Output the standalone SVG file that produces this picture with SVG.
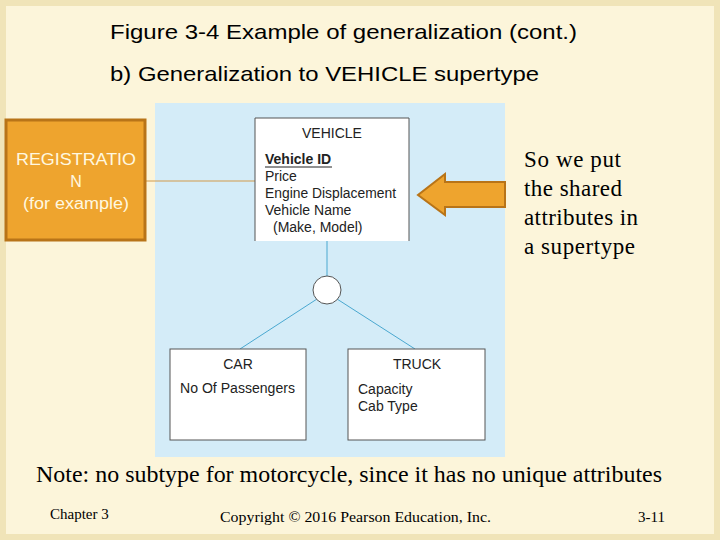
<svg xmlns="http://www.w3.org/2000/svg" width="720" height="540" viewBox="0 0 720 540">
<style>
.t{font-family:"Liberation Sans",Arial,sans-serif;fill:#000}
.s{font-family:"Liberation Serif","Times New Roman",serif;fill:#000}
.e{font-family:"Liberation Sans",Arial,sans-serif;font-size:14px;fill:#222}
.r{font-family:"Liberation Sans",Arial,sans-serif;font-size:16px;fill:#fff8e0}
.box{fill:#fff;stroke:#555;stroke-width:1}
.ln{stroke:#4aa8d0;stroke-width:1;fill:none}
</style>
<rect width="720" height="540" fill="#fcf5da"/>
<rect x="3" y="3" width="714" height="534" fill="none" stroke="#f0e4b8" stroke-width="6"/>
<text class="t" x="110" y="39" font-size="21" textLength="467" lengthAdjust="spacingAndGlyphs">Figure 3-4 Example of generalization (cont.)</text>
<text class="t" x="110" y="81" font-size="21" textLength="429" lengthAdjust="spacingAndGlyphs">b) Generalization to VEHICLE supertype</text>
<rect x="155" y="103" width="350" height="354" fill="#d4ecf8"/>
<g id="connectors">
<line class="ln" x1="327" y1="241" x2="327" y2="276"/>
<line class="ln" x1="317" y1="299" x2="240" y2="349"/>
<line class="ln" x1="337" y1="299" x2="415" y2="349"/>
<line x1="145" y1="181" x2="256" y2="181" stroke="#d29a4a" stroke-width="1"/>
</g>
<g id="vehicle">
<path class="box" d="M255,241 V118 H409 V241"/>
<text class="e" x="332" y="138" text-anchor="middle">VEHICLE</text>
<text class="e" x="265" y="164" font-weight="bold">Vehicle ID</text>
<line x1="265" y1="167" x2="332" y2="167" stroke="#222"/>
<text class="e" x="265" y="181">Price</text>
<text class="e" x="265" y="198" textLength="131" lengthAdjust="spacingAndGlyphs">Engine Displacement</text>
<text class="e" x="265" y="215">Vehicle Name</text>
<text class="e" x="273" y="232">(Make, Model)</text>
</g>
<g id="circle"><circle cx="327" cy="290" r="14" fill="#fff" stroke="#555"/></g>
<g id="car">
<rect class="box" x="170" y="349" width="136" height="91"/>
<text class="e" x="238" y="369" text-anchor="middle">CAR</text>
<text class="e" x="180" y="393" textLength="115" lengthAdjust="spacingAndGlyphs">No Of Passengers</text>
</g>
<g id="truck">
<rect class="box" x="348" y="349" width="137" height="91"/>
<text class="e" x="417" y="369" text-anchor="middle">TRUCK</text>
<text class="e" x="358" y="394">Capacity</text>
<text class="e" x="358" y="411">Cab Type</text>
</g>
<g id="registration">
<rect x="6" y="120" width="139" height="120" fill="#eea42e" stroke="#b87418" stroke-width="3"/>
<text class="r" x="76" y="165" text-anchor="middle" textLength="120" lengthAdjust="spacingAndGlyphs">REGISTRATIO</text>
<text class="r" x="76" y="187" text-anchor="middle">N</text>
<text class="r" x="76" y="209" text-anchor="middle" textLength="106" lengthAdjust="spacingAndGlyphs">(for example)</text>
</g>
<g id="arrow">
<polygon points="505,182 445,182 445,174 418,195 445,215 445,207 505,207" fill="#eea42e" stroke="#b87418" stroke-width="2"/>
</g>
<text class="s" x="524" y="167" font-size="23" textLength="97" lengthAdjust="spacing">So we put</text>
<text class="s" x="524" y="196" font-size="23" textLength="98" lengthAdjust="spacing">the shared</text>
<text class="s" x="524" y="225" font-size="23" textLength="114" lengthAdjust="spacing">attributes in</text>
<text class="s" x="524" y="254" font-size="23" textLength="111" lengthAdjust="spacing">a supertype</text>
<text class="s" x="36" y="482" font-size="23" textLength="626" lengthAdjust="spacingAndGlyphs">Note: no subtype for motorcycle, since it has no unique attributes</text>
<text class="s" x="50" y="519" font-size="15">Chapter 3</text>
<text class="s" x="220" y="522" font-size="15" textLength="271" lengthAdjust="spacingAndGlyphs">Copyright © 2016 Pearson Education, Inc.</text>
<text class="s" x="638" y="522" font-size="15">3-11</text>
</svg>
